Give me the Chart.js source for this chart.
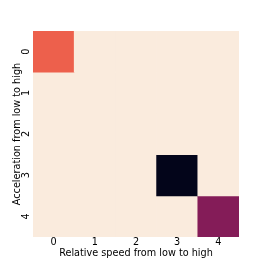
<!DOCTYPE html>
<html>
<head>
<meta charset="utf-8">
<script src="https://cdn.jsdelivr.net/npm/chart.js@4/dist/chart.umd.min.js"></script>
<style>
  html, body { margin: 0; padding: 0; background: #fff; }
  #wrap { width: 266px; height: 266px; }
</style>
</head>
<body>
<div id="wrap"><canvas id="c" width="266" height="266"></canvas></div>
<script>
// categories
var speedLabels = ['0', '1', '2', '3', '4'];
var accelLabels = ['0', '1', '2', '3', '4'];
// counts, one row per acceleration class
var row0 = [1, 0, 0, 0, 0];
var row1 = [0, 0, 0, 0, 0];
var row2 = [0, 0, 0, 0, 0];
var row3 = [0, 0, 0, 3, 0];
var row4 = [0, 0, 0, 0, 2];
var counts = [row0, row1, row2, row3, row4];

// seaborn "rocket", used reversed (0 -> light)
var rocket = ['#03051a', '#35193e', '#701f57', '#ad1759', '#e13342', '#f37651', '#f6b48f', '#faebdd'];
var rocketPos = [0, 1/7, 2/7, 3/7, 4/7, 5/7, 6/7, 1];

function hex2rgb(h){
	return [parseInt(h.substr(1,2),16), parseInt(h.substr(3,2),16), parseInt(h.substr(5,2),16)];
}
function rocketColor(t){
	t = Math.max(0, Math.min(1, t));
	for(var i = 1; i < rocketPos.length; i++){
		if(t <= rocketPos[i]){
			var f = (t - rocketPos[i-1]) / (rocketPos[i] - rocketPos[i-1]),
				a = hex2rgb(rocket[i-1]), b = hex2rgb(rocket[i]);
			return 'rgb(' + [0,1,2].map(function(k){ return Math.round(a[k] + (b[k]-a[k])*f); }).join(',') + ')';
		}
	}
	return rocket[rocket.length-1];
}

var vmax = Math.max.apply(null, counts.map(function(r){ return Math.max.apply(null, r); }));

var datasets = counts.map(function(row, r){
	return {
		label: 'accel ' + accelLabels[r],
		data: row.map(function(){ return 1; }),
		backgroundColor: row.map(function(v){ return rocketColor(1 - v / vmax); }),
		borderWidth: 0,
		barPercentage: 1,
		categoryPercentage: 1
	};
});

var font = { family: 'DejaVu Sans', size: 9.7 };

new Chart(document.getElementById('c'), {
	type: 'bar',
	data: { labels: speedLabels, datasets: datasets },
	options: {
		responsive: false,
		animation: false,
		layout: { padding: { top: 31, right: 27, left: 0, bottom: 0 } },
		plugins: { legend: { display: false }, tooltip: { enabled: false } },
		scales: {
			x: {
				stacked: true,
				grid: { display: false, drawTicks: false },
				border: { display: false },
				ticks: { color: '#000', font: font, padding: 0, maxRotation: 0 },
				title: { display: true, text: 'Relative speed from low to high', color: '#000', font: font, padding: { top: 0, bottom: 6.5 } },
				afterFit: function(s){ s.height = 29; }
			},
			y: {
				stacked: true,
				reverse: true,
				min: 0,
				max: accelLabels.length,
				grid: { display: false, drawTicks: false },
				border: { display: false },
				afterBuildTicks: function(s){
					s.ticks = accelLabels.map(function(l, i){ return { value: i + 0.5 }; });
				},
				ticks: {
					color: '#000', font: font, padding: 3, crossAlign: 'center',
					minRotation: 90, maxRotation: 90,
					callback: function(v){ return accelLabels[Math.floor(v)]; }
				},
				title: { display: true, text: 'Acceleration from low to high', color: '#000', font: font, padding: { top: 11.5, bottom: 0 } },
				afterFit: function(s){ s.width = 33; }
			}
		}
	}
});
</script>
</body>
</html>
